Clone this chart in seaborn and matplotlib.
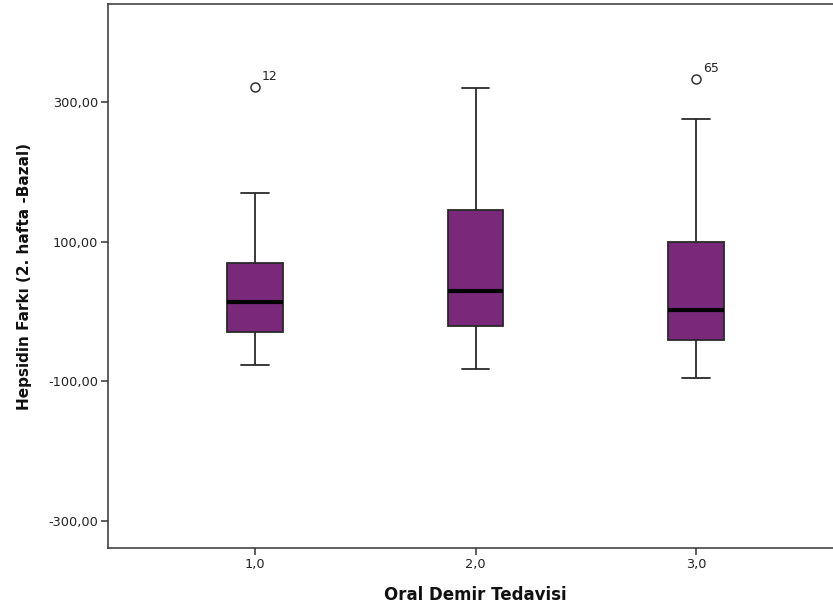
import numpy as np
import pandas as pd
import matplotlib
matplotlib.use("Agg")
import matplotlib.pyplot as plt
import seaborn as sns

# Group labels and box summary values
groups = ["1,0", "2,0", "3,0"]
whisker_low = [-77.0, -83.0, -95.0]
q1 = [-30.0, -21.0, -41.0]
median = [14.0, 29.5, 2.0]
q3 = [70.0, 145.5, 99.5]
whisker_high = [169.0, 320.0, 275.5]
outlier_values = [321.0, None, 333.0]
outlier_ids = ["12", None, "65"]

yticks = [-300, -100, 100, 300]
ytick_labels = ["-300,00", "-100,00", "100,00", "300,00"]

# Build long-form data reproducing those summaries (9 values per group:
# positions 2/4/6 of the sorted list give Q1/median/Q3)
rows = []
for g, lo, a, m, b, hi, out in zip(groups, whisker_low, q1, median, q3,
                                  whisker_high, outlier_values):
    last = out if out is not None else hi
    for v in [lo, a, a, m, m, b, b, hi, last]:
        rows.append({"grup": g, "deger": v})
df = pd.DataFrame(rows)

sns.set_theme(style="white")
plt.rcParams["font.family"] = ["DejaVu Sans"]

fig = plt.figure(figsize=(8.33, 6.12), dpi=100)
W, H = 833, 612
left, right, top, bottom = 108, 843, 4, 548
ax = fig.add_axes([left / W, 1 - bottom / H, (right - left) / W, (bottom - top) / H])

purple = "#7A297A"
sns.boxplot(data=df, x="grup", y="deger", order=groups, ax=ax,
            width=0.254, color=purple, saturation=1, whis=1.5,
            linecolor="#2a2a2a", linewidth=1.3,
            medianprops=dict(color="black", linewidth=3),
            flierprops=dict(marker="o", markersize=6.5, markerfacecolor="none",
                            markeredgecolor="#333333", markeredgewidth=1.1))

for i, (out, lab) in enumerate(zip(outlier_values, outlier_ids)):
    if out is not None:
        ax.annotate(lab, xy=(i, out), xytext=(5, 3), textcoords="offset points",
                    ha="left", va="bottom", fontsize=9, color="#222222")

ax.set_xlim(-0.667, 2.667)
ax.set_ylim(-338.7, 440.3)
ax.set_yticks(yticks)
ax.set_yticklabels(ytick_labels)
ax.set_xticks(range(len(groups)))
ax.set_xticklabels(groups)

ax.tick_params(axis="both", which="both", direction="out", length=5, width=1.1,
               color="#333333", labelsize=9.3, labelcolor="#222222",
               left=True, bottom=True, pad=2)
for s in ["left", "bottom", "top", "right"]:
    ax.spines[s].set_visible(True)
    ax.spines[s].set_color("#333333")
    ax.spines[s].set_linewidth(1.1)

ax.set_xlabel("Oral Demir Tedavisi", fontsize=12, fontweight="bold", labelpad=11,
              color="#111111")
ax.set_ylabel("Hepsidin Farkı (2. hafta -Bazal)", fontsize=11, fontweight="bold",
              labelpad=12, color="#111111")

fig.savefig("out.png", dpi=100, facecolor="white")
